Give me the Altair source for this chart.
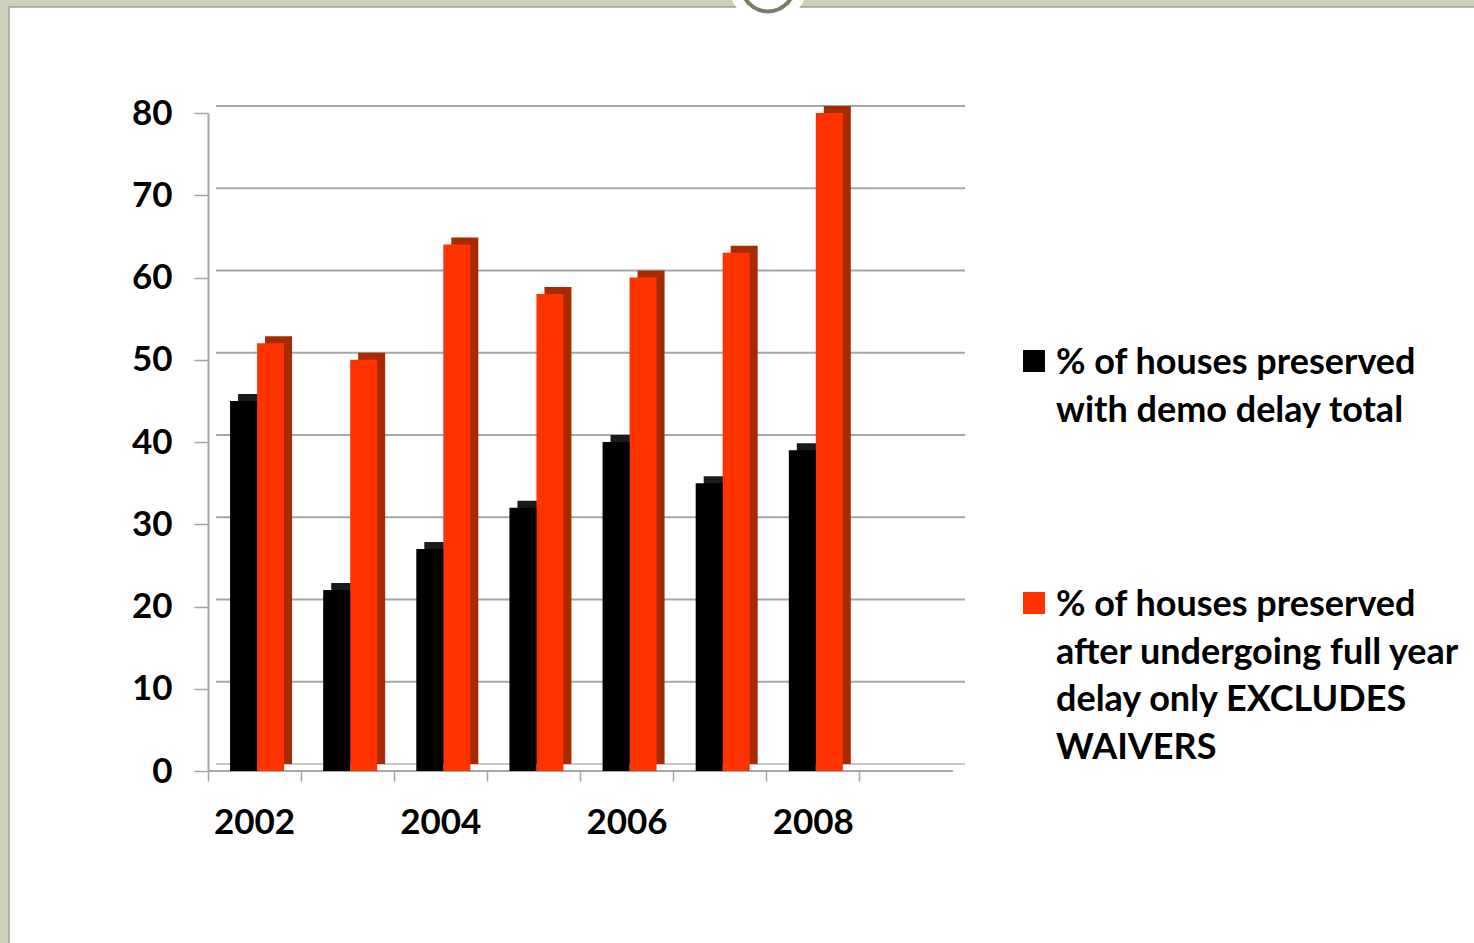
import altair as alt
import pandas as pd

# ---- data -------------------------------------------------------------
YEARS = ["2002", "2003", "2004", "2005", "2006", "2007", "2008", "2009"]
BAR_YEARS = ["2002", "2003", "2004", "2005", "2006", "2007", "2008"]
DEMO_DELAY_TOTAL = [45, 22, 27, 32, 40, 35, 39]
FULL_YEAR_DELAY = [52, 50, 64, 58, 60, 63, 80]
SERIES_COLORS = ["#000000", "#FF3300"]
SIDE_COLORS = ["#1A1A1A", "#A82A00"]
LEGEND_LABELS = [
    "% of houses preserved\nwith demo delay total",
    "% of houses preserved\nafter undergoing full year\ndelay only EXCLUDES\nWAIVERS",
]
Y_TICKS = [0, 10, 20, 30, 40, 50, 60, 70, 80]
GRID_VALUES = [10, 20, 30, 40, 50, 60, 70, 80]

W, H = 745, 658
BAR_W = 27
DEPTH_X, DEPTH_Y = 8, 7
FONT = "Lato"
GRID = "#A6A6A6"

df = pd.DataFrame({"year": BAR_YEARS, "demo": DEMO_DELAY_TOTAL, "full": FULL_YEAR_DELAY})


def xs(shift=0):
    return alt.Scale(domain=YEARS, range=[shift, W + shift], paddingInner=0, paddingOuter=0)


def ys(shift=0):
    return alt.Scale(domain=[0, 80], range=[H - shift, -shift])


base = alt.Chart(df)


def bar_layer(field, color, dx, dy=0):
    """One series of bars; the darker copy (dx/dy shifted) forms the 3-D faces."""
    return base.mark_bar(color=color, width=BAR_W).encode(
        x=alt.X("year:N", scale=xs(dx), axis=None),
        y=alt.Y(f"{field}:Q", scale=ys(dy), axis=None),
    )


# black bar left of the slot centre, red bar right of it
bars = [
    bar_layer("demo", SIDE_COLORS[0], -11 + DEPTH_X, DEPTH_Y),
    bar_layer("full", SIDE_COLORS[1], 16 + DEPTH_X, DEPTH_Y),
    bar_layer("full", SERIES_COLORS[1], 16),
    bar_layer("demo", SERIES_COLORS[0], -11),
]

# unshifted scales carry the axes
axes = base.mark_bar(opacity=0).encode(
    x=alt.X(
        "year:N", scale=xs(0), title=None,
        axis=alt.Axis(
            bandPosition=0,
            labelExpr="(+datum.value) % 2 == 0 ? datum.value : ''",
            tickSize=10, tickColor=GRID, tickWidth=1.5, domain=False,
            labelPadding=24, labelAngle=0, zindex=2,
        ),
    ),
    y=alt.Y(
        "demo:Q", scale=ys(0), title=None,
        axis=alt.Axis(
            values=Y_TICKS, tickSize=14, tickColor=GRID, tickWidth=1.5,
            domainColor=GRID, domainWidth=2, labelPadding=22, grid=False, zindex=2,
        ),
    ),
)

# back-wall gridlines
grid_df = pd.DataFrame({"v": GRID_VALUES})
grid_lines = alt.Chart(grid_df).mark_rule(color=GRID, strokeWidth=2).encode(
    y=alt.Y("v:Q", scale=ys(DEPTH_Y), axis=None), x=alt.value(DEPTH_X), x2=alt.value(W + 12)
)

# floor of the plot
floor_df = pd.DataFrame({"v": [0]})
floor_front = alt.Chart(floor_df).mark_rule(color=GRID, strokeWidth=2).encode(
    y=alt.Y("v:Q", scale=ys(0), axis=None), x=alt.value(0), x2=alt.value(W)
)
floor_back = alt.Chart(floor_df).mark_rule(color="#C8C8C8", strokeWidth=2).encode(
    y=alt.Y("v:Q", scale=ys(DEPTH_Y), axis=None), x=alt.value(DEPTH_X), x2=alt.value(W + 12)
)

# slide frame
one = pd.DataFrame({"k": [0]})
page = alt.Chart(one).mark_rect(color="white", stroke="#9EA18E", strokeWidth=1.5).encode(
    x=alt.value(-199), x2=alt.value(1300), y=alt.value(-106), y2=alt.value(900)
)
badge = alt.Chart(one).mark_point(
    shape="circle", filled=True, color="white", size=6400, opacity=1
).encode(x=alt.value(560), y=alt.value(-130))
badge_ring = alt.Chart(one).mark_point(
    shape="circle", filled=False, color="#7B7B66", size=2800, strokeWidth=4, opacity=1
).encode(x=alt.value(560), y=alt.value(-128))

# legend
legend_layers = []
for i, (label, col) in enumerate(zip(LEGEND_LABELS, SERIES_COLORS)):
    y0 = 248 + i * 242
    legend_layers.append(
        alt.Chart(one).mark_square(color=col, size=484, opacity=1).encode(
            x=alt.value(826), y=alt.value(y0)
        )
    )
    legend_layers.append(
        alt.Chart(one).mark_text(
            text=label, lineBreak="\n", lineHeight=47.5, font=FONT, fontSize=36,
            fontWeight="bold", align="left", baseline="middle", color="black",
        ).encode(x=alt.value(848), y=alt.value(y0 + 2))
    )

chart = alt.layer(
    page, badge, badge_ring,
    grid_lines, floor_back, floor_front,
    *bars, axes,
    *legend_layers,
).resolve_scale(x="independent", y="independent").properties(
    width=W, height=H,
    autosize=alt.AutoSizeParams(type="none"),
    padding={"left": 208, "top": 113, "right": 521, "bottom": 172},
    background="#CDD1BB",
).configure_view(strokeWidth=0).configure_axis(
    labelFont=FONT, labelFontSize=35, labelFontWeight="bold", labelColor="black"
)

chart.save("out.html", embed_options={"renderer": "svg", "actions": False})
